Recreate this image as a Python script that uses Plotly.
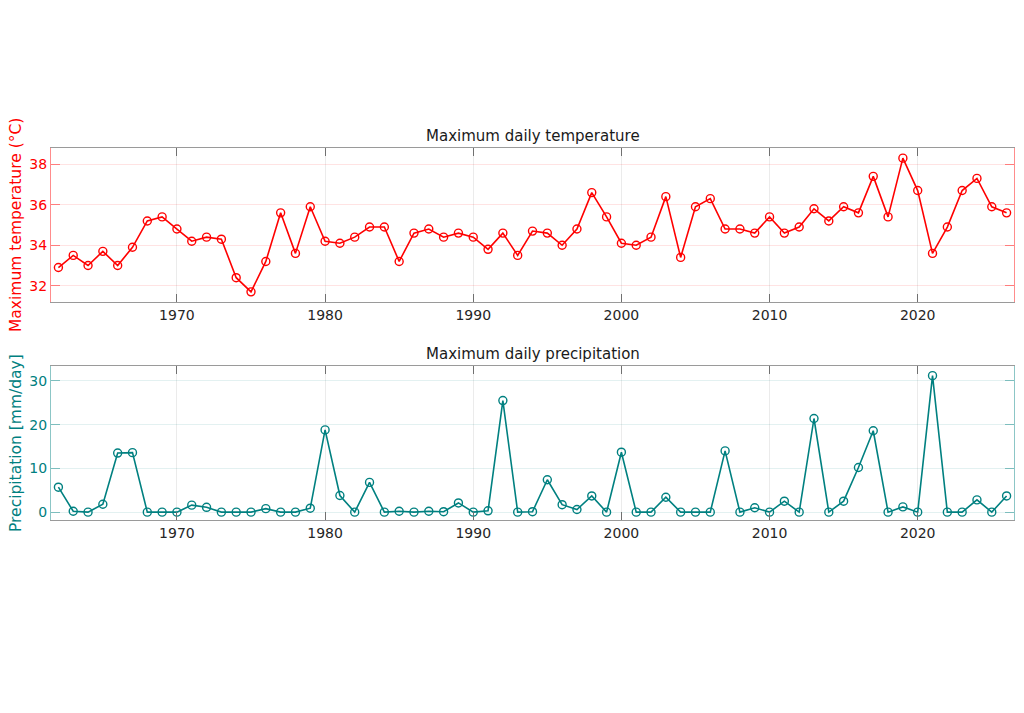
import plotly.graph_objects as go

years = list(range(1962, 2027))
temp_max = [32.9, 33.5, 33.0, 33.7, 33.0, 33.9, 35.2, 35.4, 34.8, 34.2,
            34.4, 34.3, 32.4, 31.7, 33.2, 35.6, 33.6, 35.9, 34.2, 34.1,
            34.4, 34.9, 34.9, 33.2, 34.6, 34.8, 34.4, 34.6, 34.4, 33.8,
            34.6, 33.5, 34.7, 34.6, 34.0, 34.8, 36.6, 35.4, 34.1, 34.0,
            34.4, 36.4, 33.4, 35.9, 36.3, 34.8, 34.8, 34.6, 35.4, 34.6,
            34.9, 35.8, 35.2, 35.9, 35.6, 37.4, 35.4, 38.3, 36.7, 33.6,
            34.9, 36.7, 37.3, 35.9, 35.6]
precip_max = [5.7, 0.2, 0.0, 1.8, 13.5, 13.6, 0.0, 0.0, 0.0, 1.6,
              1.1, 0.0, 0.0, 0.0, 0.8, 0.0, 0.0, 0.9, 18.8, 3.8,
              0.0, 6.8, 0.0, 0.2, 0.0, 0.2, 0.1, 2.1, 0.0, 0.3,
              25.5, 0.0, 0.1, 7.4, 1.7, 0.6, 3.7, 0.0, 13.7, 0.0,
              0.0, 3.4, 0.0, 0.0, 0.0, 14.0, 0.0, 1.0, 0.0, 2.5,
              0.0, 21.4, 0.0, 2.5, 10.2, 18.6, 0.0, 1.2, 0.0, 31.2,
              0.0, 0.0, 2.8, 0.0, 3.7]

x_ticks = [1970, 1980, 1990, 2000, 2010, 2020]
temp_ticks = [32, 34, 36, 38]
precip_ticks = [0, 10, 20, 30]

RED = "#FF0000"
TEAL = "#008080"
FONT = "DejaVu Sans"

fig = go.Figure()
fig.add_trace(go.Scatter(x=years, y=temp_max, mode="lines+markers",
                         line=dict(color=RED, width=1.6),
                         marker=dict(symbol="circle-open", size=8, color=RED,
                                     line=dict(width=1.4, color=RED)),
                         xaxis="x", yaxis="y", showlegend=False))
fig.add_trace(go.Scatter(x=years, y=precip_max, mode="lines+markers",
                         line=dict(color=TEAL, width=1.6),
                         marker=dict(symbol="circle-open", size=8, color=TEAL,
                                     line=dict(width=1.4, color=TEAL)),
                         xaxis="x2", yaxis="y2", showlegend=False))

# page body has an 8px margin, so figure coords = screen coords - 8
W, H = 1016, 705
L, R, T, B = 43, 10, 140, 193
ph = H - T - B
top_dom = [(512 - 294) / ph, 1.0]
bot_dom = [0.0, (512 - 358) / ph]

xcommon = dict(range=[1961.5, 2026.5], tickvals=x_ticks,
               showgrid=True, gridcolor="rgba(0,0,0,0.08)", gridwidth=1,
               zeroline=False, showline=True, linecolor="#9a9a9a", linewidth=1,
               mirror="ticks", ticks="inside", ticklen=8, tickcolor="#707070",
               tickfont=dict(family=FONT, size=14, color="#262626"))

fig.update_layout(
    width=W, height=H,
    margin=dict(l=L, r=R, t=T, b=B),
    paper_bgcolor="white", plot_bgcolor="white",
    font=dict(family=FONT),
    xaxis=dict(domain=[0, 1], anchor="y", **xcommon),
    xaxis2=dict(domain=[0, 1], anchor="y2", **xcommon),
    yaxis=dict(domain=top_dom, anchor="x", range=[31.2, 38.8], tickvals=temp_ticks,
               showgrid=True, gridcolor="rgba(255,0,0,0.11)", zeroline=False,
               showline=True, linecolor="rgba(255,0,0,0.45)", linewidth=1,
               mirror="ticks", ticks="inside", ticklen=9,
               tickcolor="rgba(255,0,0,0.45)",
               tickfont=dict(family=FONT, size=14, color=RED)),
    yaxis2=dict(domain=bot_dom, anchor="x2", range=[-1.8, 33.4], tickvals=precip_ticks,
                showgrid=True, gridcolor="rgba(0,128,128,0.11)", zeroline=False,
                showline=True, linecolor="rgba(0,128,128,0.45)", linewidth=1,
                mirror="ticks", ticks="inside", ticklen=9,
                tickcolor="rgba(0,128,128,0.45)",
                tickfont=dict(family=FONT, size=14, color=TEAL)),
    annotations=[
        dict(text="Maximum daily temperature", x=0.5, xref="paper",
             y=1.0, yref="paper", yanchor="bottom", yshift=1, showarrow=False,
             font=dict(family=FONT, size=15, color="#1a1a1a")),
        dict(text="Maximum daily precipitation", x=0.5, xref="paper",
             y=bot_dom[1], yref="paper", yanchor="bottom", yshift=1, showarrow=False,
             font=dict(family=FONT, size=15, color="#1a1a1a")),
        dict(text="Maximum temperature (°C)", textangle=-90, x=0, xref="paper",
             xshift=-35, xanchor="center",
             y=(top_dom[0] + top_dom[1]) / 2, yref="paper", yanchor="middle",
             showarrow=False, font=dict(family=FONT, size=15.5, color=RED)),
        dict(text="Precipitation [mm/day]", textangle=-90, x=0, xref="paper",
             xshift=-35, xanchor="center",
             y=(bot_dom[0] + bot_dom[1]) / 2, yref="paper", yanchor="middle",
             showarrow=False, font=dict(family=FONT, size=15.5, color=TEAL)),
    ],
)

fig.write_html("out.html")
